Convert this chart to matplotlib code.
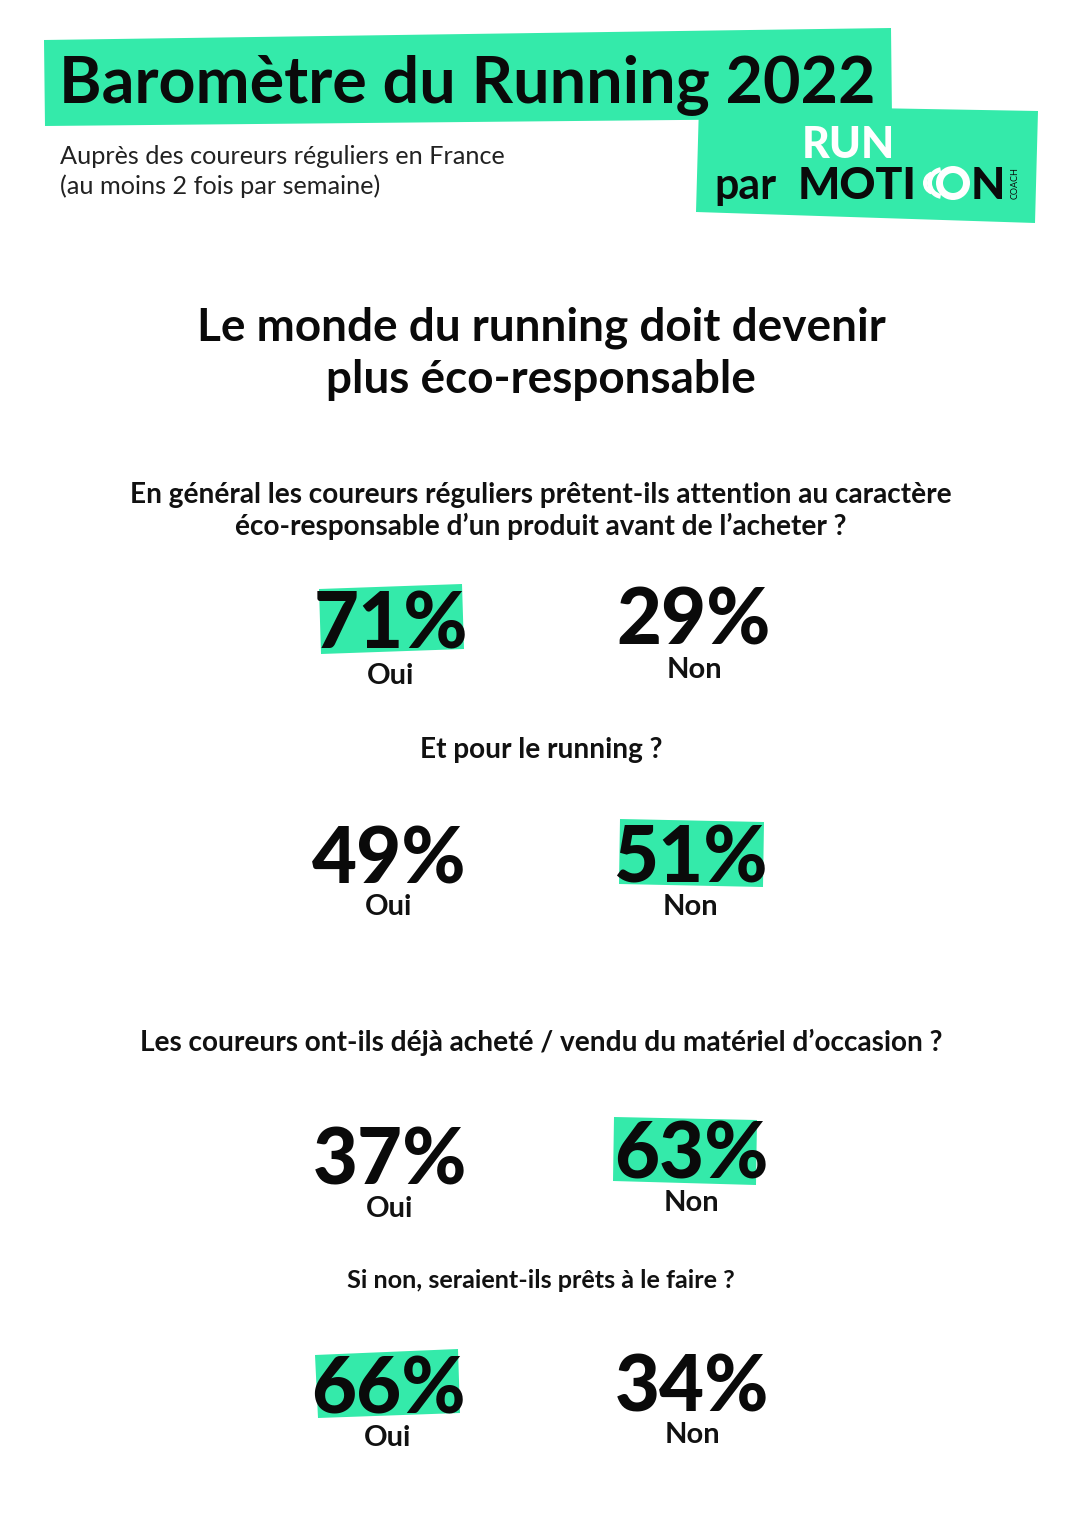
import matplotlib
matplotlib.use('Agg')
import matplotlib.pyplot as plt
from matplotlib.patches import Polygon, Wedge

GREEN = '#34EAAA'
plt.rcParams['font.family'] = ['Lato', 'DejaVu Sans']

questions = [
    "En général les coureurs réguliers prêtent-ils attention au caractère\néco-responsable d’un produit avant de l’acheter ?",
    "Et pour le running ?",
    "Les coureurs ont-ils déjà acheté / vendu du matériel d’occasion ?",
    "Si non, seraient-ils prêts à le faire ?",
]
oui_values = [71, 49, 37, 66]
non_values = [29, 51, 63, 34]

question_y = [511, 750, 1042, 1281]
question_size = [20.2, 20.2, 20.2, 18.2]
# x, y of the number and y of the label, for each answer
oui_pos = [(391, 626, 676), (389, 861, 907), (390, 1162, 1209), (388, 1391, 1438)]
non_pos = [(694, 622, 670), (690, 860, 907), (691, 1156, 1203), (692, 1389, 1435)]

highlights = {
    0: [(319, 589), (462, 584), (464, 649), (321, 654)],
    1: [(620, 819), (764, 822), (763, 887), (619, 884)],
    2: [(614, 1117), (757, 1120), (756, 1185), (613, 1181)],
    3: [(315, 1355), (458, 1349), (460, 1413), (318, 1418)],
}

fig = plt.figure(figsize=(10.8, 15.32), dpi=100)
ax = fig.add_axes([0, 0, 1, 1])
ax.set_xlim(0, 1080)
ax.set_ylim(1532, 0)
ax.axis('off')

# header
ax.add_patch(Polygon([(44, 40), (891, 28), (892, 118), (45, 126)], fc=GREEN, ec='none'))
ax.add_patch(Polygon([(699, 105), (1038, 111), (1035, 223), (696, 212)], fc=GREEN, ec='none'))
ax.text(59, 86, "Baromètre du Running 2022", fontsize=46.5, fontweight='bold', va='center', color='#0a0a0a')
ax.text(60, 156, "Auprès des coureurs réguliers en France", fontsize=18.2, va='center', color='#222222')
ax.text(60, 186, "(au moins 2 fois par semaine)", fontsize=18.2, va='center', color='#222222')

# logo
ax.text(848, 145, "RUN", fontsize=31, fontweight='black', color='white', ha='center', va='center')
ax.text(714, 186, "par", fontsize=31, fontweight='bold', color='#0a0a0a', va='center')
ax.text(798, 186, "MOTI", fontsize=32, fontweight='black', color='#0a0a0a', va='center')
ax.text(971, 186, "N", fontsize=32, fontweight='black', color='#0a0a0a', va='center')
ax.add_patch(Wedge((953, 183), 17, 0, 360, width=7, fc='white', ec='none'))
ax.add_patch(Wedge((943, 183), 16, 100, 260, width=5, fc='white', ec='none'))
ax.add_patch(Wedge((935, 183), 12, 110, 250, width=4, fc='white', ec='none'))
ax.text(1015, 183, "COACH", fontsize=6.5, rotation=90, ha='center', va='center', color='#0a0a0a')

# titles
ax.text(541, 328, "Le monde du running doit devenir", fontsize=33, fontweight='bold', ha='center', va='center', color='#0a0a0a')
ax.text(541, 380, "plus éco-responsable", fontsize=33, fontweight='bold', ha='center', va='center', color='#0a0a0a')

for i, q in enumerate(questions):
    ax.text(541, question_y[i], q, fontsize=question_size[i], fontweight='bold', ha='center', va='center',
            color='#111111', linespacing=1.2)

for i in range(4):
    if i in highlights:
        ax.add_patch(Polygon(highlights[i], fc=GREEN, ec='none', zorder=1))
    x, y, ly = oui_pos[i]
    ax.text(x, y, f"{oui_values[i]}%", fontsize=56, fontweight='black', ha='center', va='center', color='#0a0a0a', zorder=2)
    ax.text(x, ly, "Oui", fontsize=21, fontweight='bold', ha='center', va='center', color='#111111')
    x, y, ly = non_pos[i]
    ax.text(x, y, f"{non_values[i]}%", fontsize=56, fontweight='black', ha='center', va='center', color='#0a0a0a', zorder=2)
    ax.text(x, ly, "Non", fontsize=21, fontweight='bold', ha='center', va='center', color='#111111')

fig.savefig('out.png', dpi=100, facecolor='white')
